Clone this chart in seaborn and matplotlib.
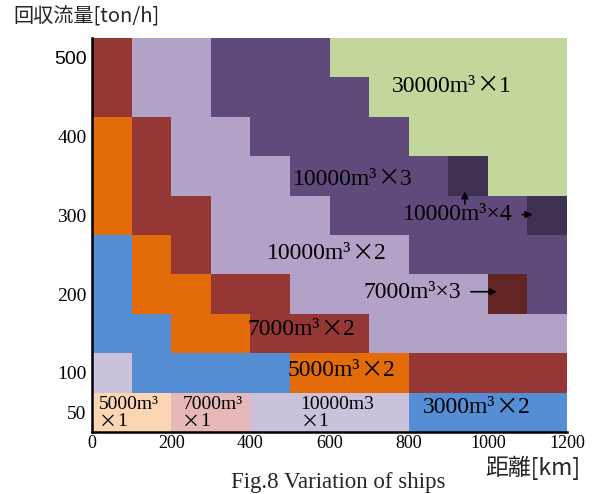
import numpy as np
import pandas as pd
import matplotlib
matplotlib.use("Agg")
import matplotlib.pyplot as plt
from matplotlib.colors import ListedColormap
import seaborn as sns

# Ship configurations and their fill colours
ship_codes = ["A", "B", "C", "D", "E", "F", "G", "H", "I", "J", "K"]
ship_names = ["3000m³×2", "5000m³×1", "5000m³×2", "7000m³×1", "7000m³×2", "7000m³×3",
              "10000m³×1", "10000m³×2", "10000m³×3", "10000m³×4", "30000m³×1"]
ship_colors = ["#558ed5", "#fcd5b5", "#e36c09", "#e6b9b8", "#953735", "#632523",
               "#ccc1da", "#b3a2c7", "#604a7b", "#3f3151", "#c3d69b"]

# Grid axes: distance bins of 100 km, flow-rate steps of 50 ton/h
distance_bins = [50, 150, 250, 350, 450, 550, 650, 750, 850, 950, 1050, 1150]
flow_rates = [50, 100, 150, 200, 250, 300, 350, 400, 450, 500]

# Chosen configuration per cell (one string per flow rate, one letter per distance bin)
config_rows = [
    "BBDDGGGGAAAA",  # 50
    "GAAAACCCEEEE",  # 100
    "AACCEEEHHHHH",  # 150
    "ACCEEHHHHHFI",  # 200
    "ACEHHHHHIIII",  # 250
    "CEEHHHIIIIIJ",  # 300
    "CEHHHIIIIJKK",  # 350
    "CEHHIIIIKKKK",  # 400
    "EHHIIIIKKKKK",  # 450
    "EHHIIIKKKKKK",  # 500
]

x_ticks = [0, 200, 400, 600, 800, 1000, 1200]
y_ticks = [50, 100, 200, 300, 400, 500]

# ---------------------------------------------------------------------------
code_index = {c: i for i, c in enumerate(ship_codes)}
matrix = np.array([[code_index[c] for c in row] for row in config_rows])
df = pd.DataFrame(matrix, index=flow_rates, columns=distance_bins)

sns.set_style("white")
serif = ["Liberation Serif", "DejaVu Sans"]
cjk = ["Noto Sans CJK JP", "DejaVu Sans"]

fig = plt.figure(figsize=(5.99, 4.94), dpi=100)
ax = fig.add_axes([92 / 599, 1 - 432 / 494, (567 - 92) / 599, (432 - 38) / 494])

sns.heatmap(df, cmap=ListedColormap(ship_colors), vmin=-0.5, vmax=len(ship_codes) - 0.5,
            cbar=False, linewidths=0, ax=ax, xticklabels=False, yticklabels=False)
ax.invert_yaxis()

x_step = distance_bins[1] - distance_bins[0]
y_step = flow_rates[1] - flow_rates[0]
x0 = distance_bins[0] - x_step / 2
y0 = flow_rates[0] - y_step / 2


def cx(km):
    return (km - x0) / x_step


def cy(t):
    return (t - y0) / y_step


ax.set_xticks([cx(v) for v in x_ticks])
ax.set_xticklabels([str(v) for v in x_ticks], family=serif, fontsize=13)
ax.set_yticks([cy(v) for v in y_ticks])
ylabels = ax.set_yticklabels([str(v) for v in y_ticks], family=serif, fontsize=14,
                             rotation=0)
ylabels[-1].set_family(["Liberation Sans", "DejaVu Sans"])
ax.tick_params(axis="both", length=0, colors="black")
ax.tick_params(axis="x", pad=2)
ax.tick_params(axis="y", pad=4)

for side in ["left", "bottom"]:
    ax.spines[side].set_visible(True)
    ax.spines[side].set_color("black")
    ax.spines[side].set_linewidth(1.8)
for side in ["top", "right"]:
    ax.spines[side].set_visible(False)


def chained_label(km, ton, head, count, size):
    """Capacity text, a wide multiplication cross, then the ship count."""
    first = ax.text(cx(km), cy(ton), head, family=serif, fontsize=size,
                    ha="left", va="center", color="black")
    cross = ax.annotate("×", xy=(1, 0.5), xycoords=first, family=cjk,
                        fontsize=size * 0.95, ha="left", va="center", color="black")
    ax.annotate(count, xy=(1, 0.5), xycoords=cross, family=serif, fontsize=size,
                ha="left", va="center", color="black")


# Region labels
chained_label(758, 464, "30000m³", "1", 17)
chained_label(508, 346, "10000m³", "3", 17)
chained_label(442, 251, "10000m³", "2", 17)
chained_label(394, 155, "7000m³", "2", 17)
chained_label(495, 103, "5000m³", "2", 17)
chained_label(836, 56, "3000m³", "2", 17)

plain = dict(family=serif, fontsize=17, ha="center", va="center", color="black")
ax.text(cx(925), cy(301), "10000m³×4", **plain)
ax.text(cx(808), cy(202), "7000m³×3", **plain)

# Arrows pointing to the small regions
arrow = dict(arrowstyle="-|>", color="black", lw=1.2, mutation_scale=10)
ax.annotate("", xy=(cx(1120), cy(301)), xytext=(cx(1080), cy(301)), arrowprops=arrow)
ax.annotate("", xy=(cx(942), cy(334)), xytext=(cx(942), cy(311)), arrowprops=arrow)
ax.annotate("", xy=(cx(1030), cy(203)), xytext=(cx(950), cy(203)), arrowprops=arrow)

# Two-line labels in the bottom row
for km, top in [(18, "5000m³"), (228, "7000m³"), (527, "10000m3")]:
    ax.text(cx(km), cy(60), top, family=serif, fontsize=14, ha="left", va="center",
            color="black")
    cross = ax.text(cx(km), cy(38), "×", family=cjk, fontsize=13, ha="left",
                    va="center", color="black")
    ax.annotate("1", xy=(1, 0.5), xycoords=cross, family=serif, fontsize=14,
                ha="left", va="center", color="black")

# Axis titles and caption
fig.text(13 / 599, 1 - 17 / 494, "回収流量[ton/h]", family=cjk, fontsize=14.5,
         ha="left", va="center")
fig.text(533 / 599, 1 - 468 / 494, "距離[km]", family=cjk, fontsize=16.5,
         ha="center", va="center")
fig.text(338 / 599, 1 - 488 / 494, "Fig.8 Variation of ships", family=serif,
         fontsize=16.5, ha="center", va="baseline")

fig.savefig("out.png", dpi=100)
